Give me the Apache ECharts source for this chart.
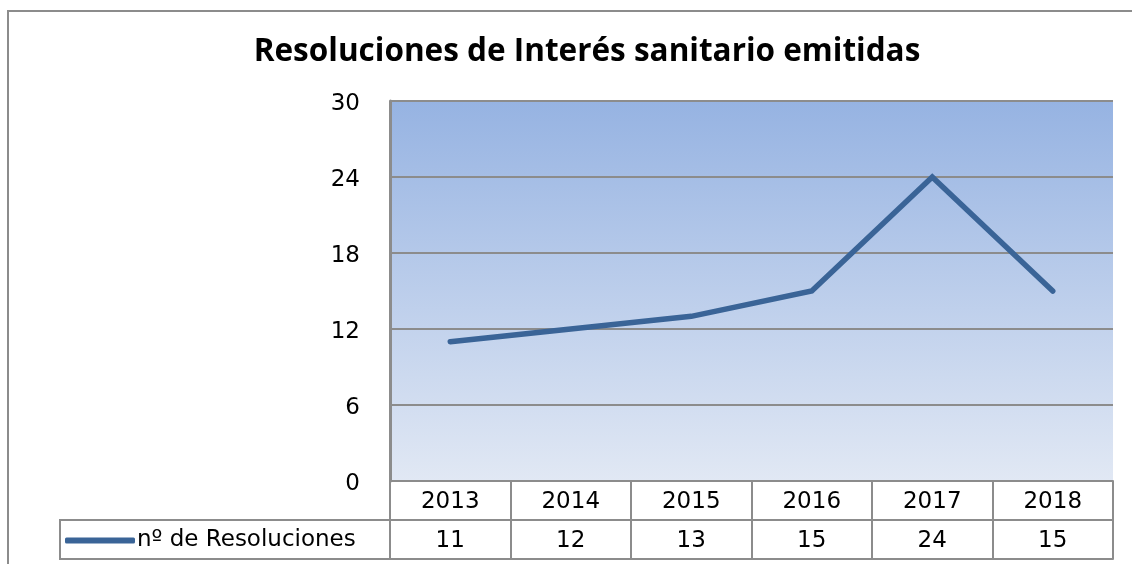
<!DOCTYPE html>
<html>
<head>
<meta charset="utf-8">
<script src="https://cdn.jsdelivr.net/npm/echarts@6/dist/echarts.min.js"></script>
<style>
  html, body { margin: 0; padding: 0; background: #ffffff; }
  #chart { width: 1132px; height: 564px; }
</style>
</head>
<body>
<div id="chart"></div>
<script>
// Chart content
const titleText = 'Resoluciones de Interés sanitario emitidas';
const seriesName = 'nº de Resoluciones';
const years = ['2013', '2014', '2015', '2016', '2017', '2018'];
const resoluciones = [11, 12, 13, 15, 24, 15];
const yMin = 0, yMax = 30, yStep = 6;

// Layout of the plot and the data table beneath it
const PLOT = { left: 390, right: 1113, top: 101, bottom: 481 };
const ROW_H = 39;          // height of each data-table row
const TABLE_LEFT = 60;     // left edge of the legend cell
const GRID_GRAY = '#8c8c8c';
const LINE_BLUE = '#3a6497';
const FONT = 'DejaVu Sans';

const chart = echarts.init(document.getElementById('chart'), null, { renderer: 'canvas' });

const option = {
  animation: false,
  backgroundColor: '#ffffff',
  title: {
    text: titleText,
    left: 582,
    top: 31,
    textAlign: 'center',
    textStyle: { fontFamily: 'Open Sans', fontWeight: 'bold', fontSize: 31.5, color: '#000000' }
  },
  legend: {
    data: [seriesName],
    left: TABLE_LEFT + 5,
    top: PLOT.bottom + ROW_H + 9,
    icon: 'roundRect',
    itemWidth: 70,
    itemHeight: 6,
    itemGap: 0,
    padding: 0,
    textStyle: { fontFamily: FONT, fontSize: 23, color: '#000000', padding: [0, 0, 0, -3] }
  },
  grid: {
    left: PLOT.left,
    top: PLOT.top,
    right: 1132 - PLOT.right,
    bottom: 564 - PLOT.bottom,
    show: true,
    borderWidth: 0,
    backgroundColor: new echarts.graphic.LinearGradient(0, 0, 0, 1, [
      { offset: 0, color: '#96b3e2' },
      { offset: 1, color: '#e1e8f4' }
    ])
  },
  xAxis: [
    {
      type: 'category',
      data: years,
      position: 'bottom',
      boundaryGap: true,
      axisLine: { show: true, lineStyle: { color: GRID_GRAY, width: 2 } },
      axisTick: { show: true, interval: 0, length: ROW_H * 2, lineStyle: { color: GRID_GRAY, width: 2 } },
      axisLabel: { interval: 0, margin: 10, fontFamily: FONT, fontSize: 23, color: '#000000' },
      splitLine: { show: false }
    },
    {
      type: 'category',
      data: resoluciones.map(String),
      position: 'bottom',
      offset: ROW_H,
      boundaryGap: true,
      axisLine: { show: true, lineStyle: { color: GRID_GRAY, width: 2 } },
      axisTick: { show: false },
      axisLabel: { interval: 0, margin: 10, fontFamily: FONT, fontSize: 23, color: '#000000' },
      splitLine: { show: false }
    },
    {
      type: 'category',
      data: years,
      position: 'bottom',
      offset: ROW_H * 2,
      boundaryGap: true,
      axisLine: { show: true, lineStyle: { color: GRID_GRAY, width: 2 } },
      axisTick: { show: false },
      axisLabel: { show: false },
      splitLine: { show: false }
    }
  ],
  yAxis: {
    type: 'value',
    min: yMin,
    max: yMax,
    interval: yStep,
    axisLine: { show: true, lineStyle: { color: GRID_GRAY, width: 3 } },
    axisTick: { show: false },
    axisLabel: {
      margin: 30,
      formatter: '{v|{value}}',
      rich: { v: { fontFamily: FONT, fontSize: 23, color: '#000000', padding: [7, 0, 0, 0] } }
    },
    splitLine: { show: true, lineStyle: { color: GRID_GRAY, width: 2 } }
  },
  series: [
    {
      name: seriesName,
      type: 'line',
      data: resoluciones,
      xAxisIndex: 0,
      symbol: 'none',
      smooth: false,
      color: LINE_BLUE,
      lineStyle: { color: LINE_BLUE, width: 5.5, cap: 'round', join: 'miter' }
    }
  ],
  graphic: [
    // outer chart frame
    {
      type: 'rect',
      shape: { x: 8, y: 11, width: 1300, height: 700 },
      style: { fill: 'none', stroke: GRID_GRAY, lineWidth: 2 },
      silent: true,
      z: 0
    },
    // legend cell of the data table
    {
      type: 'rect',
      shape: { x: TABLE_LEFT, y: PLOT.bottom + ROW_H, width: PLOT.left - TABLE_LEFT, height: ROW_H },
      style: { fill: 'none', stroke: GRID_GRAY, lineWidth: 2 },
      silent: true,
      z: 1
    }
  ]
};

chart.setOption(option);
</script>
</body>
</html>
